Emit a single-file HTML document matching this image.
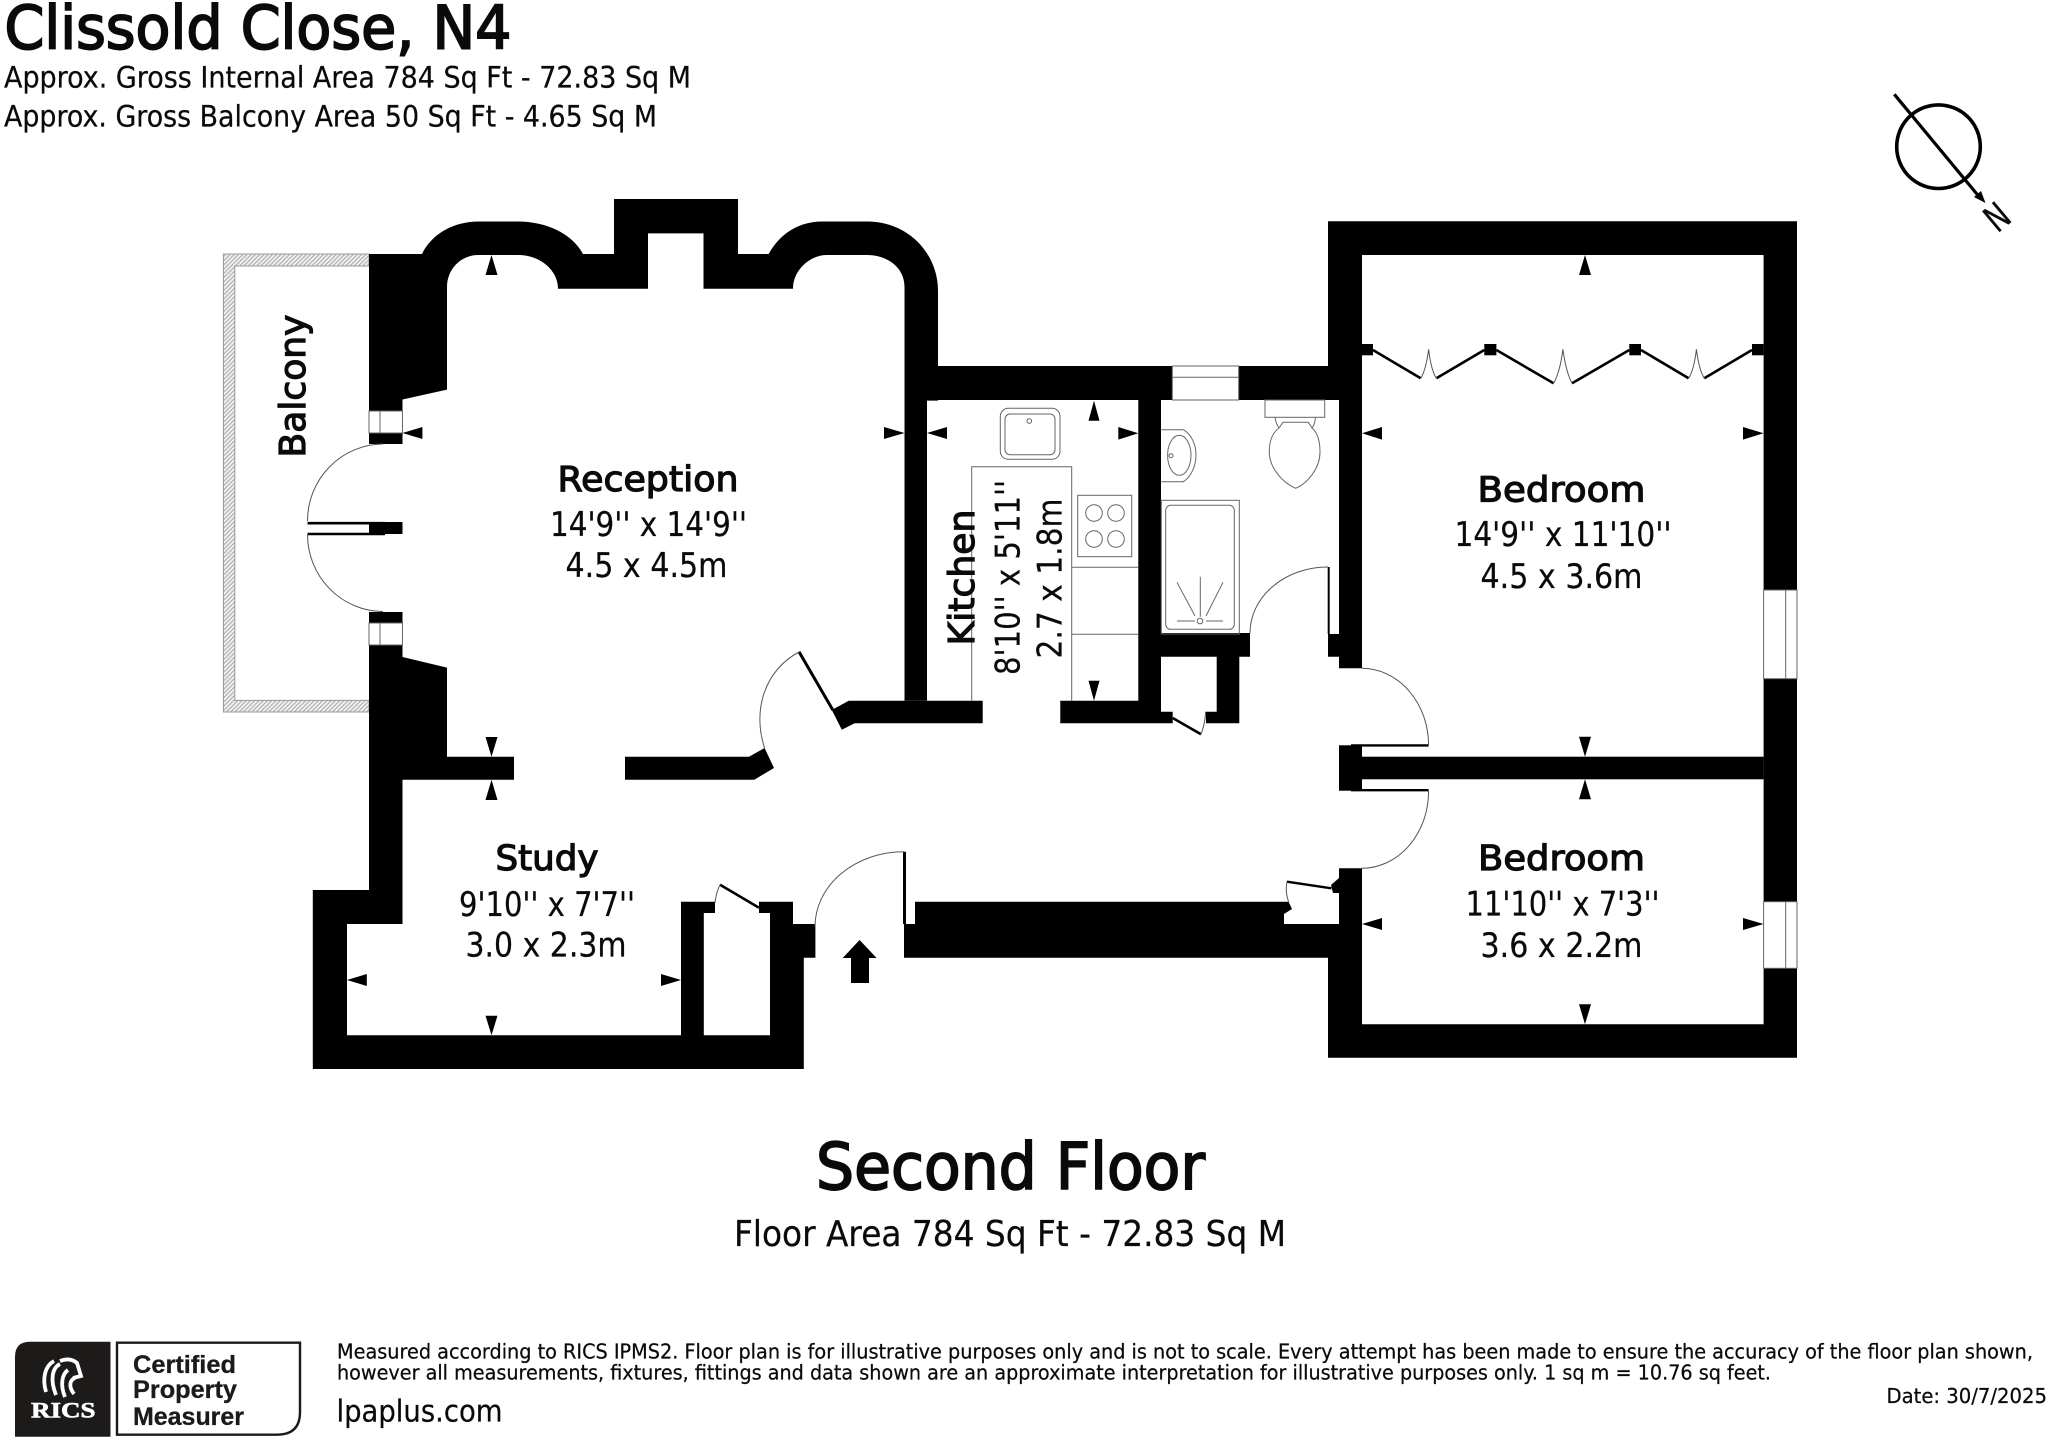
<!DOCTYPE html>
<html><head><meta charset="utf-8"><style>
html,body{margin:0;padding:0;background:#fff}
svg{display:block}
text{font-family:"DejaVu Sans","Liberation Sans",sans-serif;fill:#0a0a0a;stroke:#0a0a0a;stroke-width:.25px}
.s{stroke:#0a0a0a;stroke-width:1.2px}
.t{stroke:#0a0a0a;stroke-width:1.9px}
.f{fill:none;stroke:#666;stroke-width:1}
</style></head><body>
<svg width="2048" height="1438" viewBox="0 0 2048 1438" xmlns="http://www.w3.org/2000/svg">
<defs><pattern id="h" width="3" height="3" patternUnits="userSpaceOnUse" patternTransform="rotate(45)"><rect width="3" height="3" fill="#f2f2f2"/><rect width="1.1" height="3" fill="#aaa"/></pattern></defs>
<rect width="2048" height="1438" fill="#fff"/>

<!-- Headings -->
<text class="t" x="4.5" y="48.3" font-size="60" textLength="507" lengthAdjust="spacingAndGlyphs">Clissold Close, N4</text>
<text x="4" y="87.3" font-size="29" textLength="687" lengthAdjust="spacingAndGlyphs">Approx. Gross Internal Area 784 Sq Ft - 72.83 Sq M</text>
<text x="4" y="126.7" font-size="29" textLength="653" lengthAdjust="spacingAndGlyphs">Approx. Gross Balcony Area 50 Sq Ft - 4.65 Sq M</text>

<!-- North -->
<circle cx="1938.5" cy="146.7" r="41.8" fill="none" stroke="#000" stroke-width="3.6"/>
<path d="M1894.3,94.3L1981,199" stroke="#000" stroke-width="3.2"/>
<path d="M1985.5,203L1974,197L1981,191Z" fill="#000"/>
<text transform="translate(1996.7,216.7) rotate(140)" x="-10.5" y="13.5" font-size="37" textLength="21" lengthAdjust="spacingAndGlyphs">N</text>

<!-- Balcony -->
<path fill-rule="evenodd" d="M369,254H223.4V712H369V700.4H234.8V266H369Z" fill="url(#h)" stroke="#999" stroke-width="1"/>

<!-- Walls -->
<g fill="#000">
<path d="M369,254L422,254C432,233 455,221.5 478.6,221.5L518,221.5C545,221.5 572,233 583,254L614,254L614,199L738,199L738,254L768.7,254C780,233 800,221.5 822,221.5L866.7,221.5C910,221.5 938,255 938,290.7L938,366L938,400.6L927,400.6L927,700.7L904.5,700.7L904.5,287C904.5,268 888,255 866.7,255L827,255C810,255 793,270 793,288.7L703.5,288.7L703.5,233.4L648,233.4L648,288.7L558,288.7C558,270 540,255 518,255L478.6,255C460,255 447,270 447,287L447,389.6L402.5,399.5L402.5,411L369,411Z"/>
<path d="M369,645L402.5,645L402.5,657L447,667.6L447,756.7L514,756.7L514,779.7L402.5,779.7L402.5,924L347,924L347,1035.3L681,1035.3L681,901.7L715,901.7L715,913L703.8,913L703.8,1035.3L770,1035.3L770,913L759,913L759,901.7L793,901.7L793,924L815.4,924L815.4,957.7L803.8,957.7L803.8,1069L312.8,1069L312.8,890L369,890Z"/>
<rect x="369" y="433" width="33.5" height="11"/>
<rect x="369" y="612" width="33.5" height="11"/>
<rect x="369" y="522" width="33.5" height="12"/>
<path d="M625,756.7L749,756.7L764.6,748L774,768L754.3,779.7L625,779.7Z"/>
<path d="M848.7,700.7L982.7,700.7L982.7,723.3L854.7,723.3L841.8,729.7L831.8,710Z"/>
<path d="M1138.3,400L1161,400L1161,711.7L1172.7,711.7L1172.7,723.3L1060.3,723.3L1060.3,700.7L1138.3,700.7Z"/>
<rect x="930" y="366" width="242.3" height="34"/>
<rect x="1238.7" y="366" width="100.3" height="34"/>
<path d="M1161,633L1250,633L1250,656.7L1239.3,656.7L1239.3,723.3L1206,723.3L1206,711.7L1216.7,711.7L1216.7,656.7L1161,656.7Z"/>
<path d="M1328,221.3L1797,221.3L1797,590L1763.6,590L1763.6,255L1362,255L1362,668.3L1339,668.3L1339,656.7L1328,656.7L1328,634L1339,634L1339,400L1328,400Z"/>
<rect x="1763.6" y="678.7" width="33.4" height="223"/>
<rect x="1362" y="756.7" width="401.6" height="22.6"/>
<rect x="1339" y="745.3" width="23" height="45.4"/>
<path d="M1339,868.3L1362,868.3L1362,1024.3L1763.6,1024.3L1763.6,968.3L1797,968.3L1797,1057.7L1328,1057.7L1328,957.7L904,957.7L904,924L915,924L915,901.7L1288.6,901.7L1292,909L1284,914L1284,924L1339,924Z"/>
<path d="M1331,885L1339,878L1339,893L1333,893Z"/>
<!-- wardrobe pivots -->
<rect x="1362" y="344" width="11" height="11.3"/>
<rect x="1484.3" y="344" width="12.1" height="11.3"/>
<rect x="1629.3" y="344" width="11.7" height="11.3"/>
<rect x="1752" y="344" width="11.6" height="11.3"/>
<!-- entry arrow -->
<path d="M859.6,940L876.6,958H869V983H851V958H842.7Z"/>
</g>

<!-- Windows -->
<g class="f">
<rect x="369" y="411" width="33.5" height="22"/><path d="M380,411V433"/>
<rect x="369" y="623" width="33.5" height="22"/><path d="M380,623V645"/>
<rect x="1172.3" y="366" width="66.4" height="34"/><path d="M1172.3,377.3H1238.7"/>
<rect x="1763.6" y="590" width="33.4" height="88.7"/><path d="M1785.7,590V678.7"/>
<rect x="1763.6" y="901.7" width="33.4" height="66.6"/><path d="M1785.7,901.7V968.3"/>
</g>

<!-- Door leaves -->
<g fill="none" stroke="#000">
<path d="M307.5,523.2H385M307.5,534H385" stroke-width="2.6"/>
<path d="M799,651.7L832.8,710" stroke-width="3"/>
<path d="M904.5,851.7V924" stroke-width="3"/>
<path d="M759,907.7L720,884.7" stroke-width="2.6"/>
<path d="M1172.7,718L1201,734.3" stroke-width="2.6"/>
<path d="M1328.7,567V634" stroke-width="2"/>
<path d="M1351,745.4H1428.6M1351,790.2H1428.6" stroke-width="2.4"/>
<path d="M1287,881.7L1331.4,888.3" stroke-width="2.4"/>
<path d="M1373,350L1420.7,378.3M1436.4,378.3L1484.3,350M1496.4,350L1553.6,383.3M1572,383.3L1629.3,350M1641,350L1688.6,378.3M1704.3,378.3L1752,350" stroke-width="2.6"/>
</g>
<!-- Door arcs -->
<g fill="none" stroke="#555" stroke-width="1">
<path d="M383,444A76,77 0 0 0 307.5,521"/>
<path d="M307.5,535A76,77 0 0 0 383,611.5"/>
<path d="M799,652C765,670 752,710 764.6,748"/>
<path d="M904,851.7A89,75 0 0 0 815,926.7"/>
<path d="M720,884.7Q716,893 715,903"/>
<path d="M1201,734.3Q1205,724 1205.7,711.7"/>
<path d="M1328,567A78,66 0 0 0 1250,633"/>
<path d="M1362,668.3A67,77 0 0 1 1428.6,745"/>
<path d="M1428.6,791A67,77 0 0 1 1362,868.3"/>
<path d="M1287,881.7Q1285,892 1288.6,901.7"/>
<path d="M1420.7,378.3Q1426,370 1428.6,349.3Q1431,370 1436.4,378.3"/>
<path d="M1553.6,383.3Q1560,372 1562.9,349.3Q1566,372 1572,383.3"/>
<path d="M1688.6,378.3Q1694,370 1696.4,349.3Q1699,370 1704.3,378.3"/>
</g>

<!-- Fixtures -->
<g class="f">
<path d="M971.7,700.7V466.7H1071.7V700.7M1071.7,567.3H1138.3M1071.7,634.3H1138.3"/>
<rect x="1000.3" y="408.3" width="59.7" height="51" rx="8"/>
<rect x="1005" y="414" width="50" height="40.7" rx="5"/>
<circle cx="1029.3" cy="421" r="2.3"/>
<rect x="1077.7" y="495.3" width="54" height="61.4"/>
<circle cx="1094" cy="513" r="8.3"/><circle cx="1116" cy="513" r="8.3"/>
<circle cx="1094" cy="539" r="8.3"/><circle cx="1116" cy="539" r="8.3"/>
<path d="M1161.3,429.7H1183.3C1191,434 1196,444 1196,455C1196,466 1191,477 1183.3,481.7H1161.3"/>
<ellipse cx="1179.3" cy="455.3" rx="11.7" ry="20"/>
<circle cx="1171" cy="455.7" r="2"/>
<rect x="1161.3" y="500.3" width="78" height="133.7"/>
<rect x="1165.7" y="505.3" width="68.6" height="124" rx="5"/>
<circle cx="1200" cy="621" r="2.8"/>
<path d="M1200.3,576.7V616.7M1177,582.3L1195,616M1223,582.3L1206,616M1177,621H1195M1206,621H1223"/>
<rect x="1265" y="400" width="59.7" height="17.3"/>
<path d="M1275,417.3Q1276,424 1279,428C1272,433 1269.3,442 1269.3,452C1269.3,468 1283,483 1295.7,488.3C1308,483 1320,468 1320,452C1320,442 1318,433 1312,428Q1315,424 1315.5,417.3M1279,428L1283,422.3H1308.3L1312,428"/>
</g>

<!-- Dimension arrows -->
<g fill="#000">
<path d="M491.5,255L497.5,275H485.5Z"/>
<path d="M402.5,433L422.4,427V439Z"/>
<path d="M904.5,433L884,427V439Z"/>
<path d="M927,433L947,427V439Z"/>
<path d="M491.5,756.7L497.5,737H485.5Z"/>
<path d="M491.5,779.7L497.5,800H485.5Z"/>
<path d="M347,980L366.8,974V986Z"/>
<path d="M681,980L661,974V986Z"/>
<path d="M491.5,1035.3L497.5,1015.7H485.5Z"/>
<path d="M1094,400.7L1099.5,420.7H1088.5Z"/>
<path d="M1138.3,433.3L1118.3,427V439.6Z"/>
<path d="M1094,700.7L1099.5,680.7H1088.5Z"/>
<path d="M1585,255L1591,275H1579Z"/>
<path d="M1362,433.3L1382,427V439.6Z"/>
<path d="M1763.6,433.3L1743,427V439.6Z"/>
<path d="M1585,756.7L1591,736.7H1579Z"/>
<path d="M1585,779.3L1591,799.3H1579Z"/>
<path d="M1362,924L1382,918V930Z"/>
<path d="M1763.6,924L1743,918V930Z"/>
<path d="M1585,1024.3L1591,1004.3H1579Z"/>
</g>

<!-- Room labels -->
<text class="s" x="557.5" y="491" font-size="35" textLength="181" lengthAdjust="spacingAndGlyphs">Reception</text>
<text x="550" y="536" font-size="34" textLength="197" lengthAdjust="spacingAndGlyphs">14'9'' x 14'9''</text>
<text x="565.5" y="577" font-size="34" textLength="162" lengthAdjust="spacingAndGlyphs">4.5 x 4.5m</text>
<text class="s" x="495.5" y="870" font-size="35" textLength="103" lengthAdjust="spacingAndGlyphs">Study</text>
<text x="459" y="916" font-size="34" textLength="176" lengthAdjust="spacingAndGlyphs">9'10'' x 7'7''</text>
<text x="465.5" y="956.5" font-size="34" textLength="161" lengthAdjust="spacingAndGlyphs">3.0 x 2.3m</text>
<text class="s" x="1477.5" y="501.5" font-size="35" textLength="168" lengthAdjust="spacingAndGlyphs">Bedroom</text>
<text x="1454.5" y="546" font-size="34" textLength="217" lengthAdjust="spacingAndGlyphs">14'9'' x 11'10''</text>
<text x="1480.5" y="588" font-size="34" textLength="162" lengthAdjust="spacingAndGlyphs">4.5 x 3.6m</text>
<text class="s" x="1478" y="870" font-size="35" textLength="167" lengthAdjust="spacingAndGlyphs">Bedroom</text>
<text x="1465.5" y="915.5" font-size="34" textLength="194" lengthAdjust="spacingAndGlyphs">11'10'' x 7'3''</text>
<text x="1480.5" y="957" font-size="34" textLength="162" lengthAdjust="spacingAndGlyphs">3.6 x 2.2m</text>
<text class="s" transform="translate(305,457.5) rotate(-90)" font-size="36" textLength="143" lengthAdjust="spacingAndGlyphs">Balcony</text>
<text class="s" transform="translate(974,645.5) rotate(-90)" font-size="36" textLength="136" lengthAdjust="spacingAndGlyphs">Kitchen</text>
<text transform="translate(1019.3,675) rotate(-90)" font-size="34" textLength="195" lengthAdjust="spacingAndGlyphs">8'10'' x 5'11''</text>
<text transform="translate(1061.7,658.5) rotate(-90)" font-size="34" textLength="160" lengthAdjust="spacingAndGlyphs">2.7 x 1.8m</text>

<!-- Floor title -->
<text class="t" x="816" y="1189" font-size="64" textLength="389" lengthAdjust="spacingAndGlyphs">Second Floor</text>
<text x="734" y="1246" font-size="36" textLength="552" lengthAdjust="spacingAndGlyphs">Floor Area 784 Sq Ft - 72.83 Sq M</text>

<!-- Logo -->
<path d="M30,1341.7H110.5V1436.7H15V1356.7Q15,1341.7 30,1341.7Z" fill="#1d1a1a"/>
<path d="M117,1342.7H300V1412Q300,1434.7 277,1434.7H117Z" fill="#fff" stroke="#1d1a1a" stroke-width="2.4"/>
<g fill="none" stroke="#fff" stroke-width="3.8">
<path d="M46,1392C42,1378 45,1366 54,1361M56,1395C50,1380 52,1368 60,1364"/>
<path d="M65,1397C60,1385 62,1374 68,1370M74,1394C68,1386 70,1380 75,1378"/>
<path d="M60,1361Q70,1357 77,1363L81,1376L73,1378"/>
</g>
<text x="31" y="1417.7" font-size="22" textLength="64.5" lengthAdjust="spacingAndGlyphs" style="font-family:'Liberation Serif',serif;font-weight:bold;fill:#fff;stroke:#fff;stroke-width:.6px">RICS</text>
<g style="font-weight:bold" font-size="25">
<text x="133" y="1373" textLength="103" lengthAdjust="spacingAndGlyphs" style="font-family:'Liberation Sans',sans-serif;fill:#1d1a1a">Certified</text>
<text x="133" y="1398" textLength="104" lengthAdjust="spacingAndGlyphs" style="font-family:'Liberation Sans',sans-serif;fill:#1d1a1a">Property</text>
<text x="133" y="1425" textLength="111" lengthAdjust="spacingAndGlyphs" style="font-family:'Liberation Sans',sans-serif;fill:#1d1a1a">Measurer</text>
</g>

<!-- Footer -->
<text x="337" y="1358.3" font-size="20.5" textLength="1696" lengthAdjust="spacingAndGlyphs">Measured according to RICS IPMS2. Floor plan is for illustrative purposes only and is not to scale. Every attempt has been made to ensure the accuracy of the floor plan shown,</text>
<text x="337" y="1379.5" font-size="20.5" textLength="1434" lengthAdjust="spacingAndGlyphs">however all measurements, fixtures, fittings and data shown are an approximate interpretation for illustrative purposes only. 1 sq m = 10.76 sq feet.</text>
<text x="1886.5" y="1403" font-size="20.5" textLength="160.5" lengthAdjust="spacingAndGlyphs">Date: 30/7/2025</text>
<text x="336.5" y="1421.7" font-size="30" textLength="166" lengthAdjust="spacingAndGlyphs">lpaplus.com</text>
</svg>
</body></html>
